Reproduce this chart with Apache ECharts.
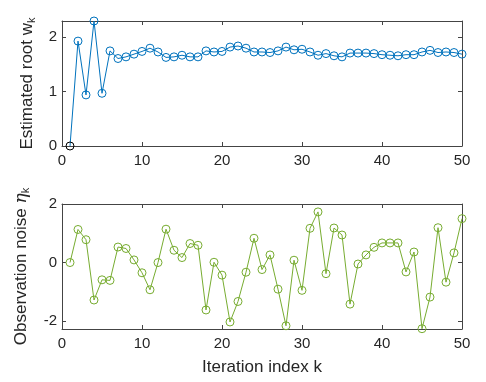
<!DOCTYPE html>
<html><head><meta charset="utf-8">
<script src="https://cdn.jsdelivr.net/npm/echarts@6/dist/echarts.min.js"></script>
<style>html,body{margin:0;padding:0;background:#fff}#c{width:486px;height:382px}</style>
</head><body><div id="c"></div>
<script>
const iterations = [1,2,3,4,5,6,7,8,9,10,11,12,13,14,15,16,17,18,19,20,21,22,23,24,25,26,27,28,29,30,31,32,33,34,35,36,37,38,39,40,41,42,43,44,45,46,47,48,49,50];
const estimatedRoot = [0.00,1.93,0.94,2.30,0.97,1.75,1.61,1.64,1.69,1.74,1.80,1.73,1.63,1.64,1.67,1.64,1.64,1.75,1.73,1.74,1.82,1.84,1.80,1.73,1.73,1.72,1.75,1.82,1.77,1.78,1.73,1.67,1.70,1.66,1.64,1.71,1.71,1.71,1.70,1.68,1.67,1.66,1.68,1.68,1.73,1.76,1.72,1.73,1.72,1.69];
const observationNoise = [0.00,1.13,0.78,-1.28,-0.59,-0.61,0.53,0.48,0.09,-0.35,-0.93,0.00,1.14,0.42,0.17,0.65,0.59,-1.62,0.01,-0.43,-2.03,-1.33,-0.33,0.83,-0.24,0.26,-0.91,-2.16,0.08,-0.95,1.17,1.73,-0.38,1.18,0.94,-1.42,-0.05,0.26,0.52,0.67,0.67,0.67,-0.32,0.36,-2.26,-1.18,1.19,-0.67,0.33,1.50];
const xTicks = [0,10,20,30,40,50];
const yTicksTop = [0,1,2];
const yTicksBottom = [-2,0,2];

const FONT = 'Liberation Sans, Arial, sans-serif';
const AX = '#262626';
const LINE = '#444444';
const BLUE = '#0072BD';
const GREEN = '#77AC30';

function xAx(gi, labels) {
  return [{
    type:'value', gridIndex:gi, min:0, max:50, position:'bottom',
    axisLine:{show:true, onZero:false, lineStyle:{color:LINE, width:1}},
    axisTick:{show:true, inside:true, length:4, lineStyle:{color:LINE}, customValues:xTicks},
    axisLabel:{show:true, color:AX, fontFamily:FONT, fontSize:15, margin:7, customValues:xTicks},
    splitLine:{show:false},
    name: labels ? 'Iteration index k' : '', nameLocation:'middle', nameGap:30,
    nameTextStyle:{color:AX, fontFamily:FONT, fontSize:17}
  },{
    type:'value', gridIndex:gi, min:0, max:50, position:'top',
    axisLine:{show:true, onZero:false, lineStyle:{color:LINE, width:1}},
    axisTick:{show:true, inside:true, length:4, lineStyle:{color:LINE}, customValues:xTicks},
    axisLabel:{show:false}, splitLine:{show:false}
  }];
}
function yAx(gi, min, max, ticks, name, gap) {
  return [{
    type:'value', gridIndex:gi, min:min, max:max, position:'left',
    axisLine:{show:true, onZero:false, lineStyle:{color:LINE, width:1}},
    axisTick:{show:true, inside:true, length:4, lineStyle:{color:LINE}, customValues:ticks},
    axisLabel:{show:true, color:AX, fontFamily:FONT, fontSize:15, margin:5, customValues:ticks},
    splitLine:{show:false},
    name:name, nameLocation:'middle', nameGap:gap, nameRotate:90,
    nameTextStyle:{color:AX, fontFamily:FONT, fontSize:17,
      rich:{n:{fontSize:17, fontFamily:FONT, color:AX},
            g:{fontSize:17, fontFamily:'DejaVu Serif, serif', fontStyle:'italic', color:AX},
            s:{fontSize:11, fontFamily:FONT, color:AX, padding:[8,0,0,0]}}}
  },{
    type:'value', gridIndex:gi, min:min, max:max, position:'right',
    axisLine:{show:true, onZero:false, lineStyle:{color:LINE, width:1}},
    axisTick:{show:true, inside:true, length:4, lineStyle:{color:LINE}, customValues:ticks},
    axisLabel:{show:false}, splitLine:{show:false}
  }];
}

const topData = iterations.map((k,i)=> i===0
  ? {value:[k, estimatedRoot[i]], itemStyle:{borderColor:'#000'}}
  : [k, estimatedRoot[i]]);
const botData = iterations.map((k,i)=>[k, observationNoise[i]]);

const chart = echarts.init(document.getElementById('c'), null, {renderer:'canvas'});
chart.setOption({
  backgroundColor:'#fff',
  animation:false,
  grid:[
    {left:62, top:21, width:400, height:125},
    {left:62, top:204, width:400, height:125}
  ],
  xAxis:[...xAx(0,false), ...xAx(1,true)],
  yAxis:[...yAx(0,0,2.3,yTicksTop,'{n|Estimated root w}{s|k}',25),
         ...yAx(1,-2.27,2,yTicksBottom,'{n|Observation noise }{g|η}{s|k}',31)],
  series:[
    {type:'line', xAxisIndex:0, yAxisIndex:0, data:topData, symbol:'circle', symbolSize:8,
     lineStyle:{color:BLUE, width:1}, itemStyle:{color:'rgba(0,0,0,0)', borderColor:BLUE, borderWidth:1}},
    {type:'line', xAxisIndex:2, yAxisIndex:2, data:botData, symbol:'circle', symbolSize:8,
     lineStyle:{color:GREEN, width:1}, itemStyle:{color:'rgba(0,0,0,0)', borderColor:GREEN, borderWidth:1}}
  ]
});
</script></body></html>
